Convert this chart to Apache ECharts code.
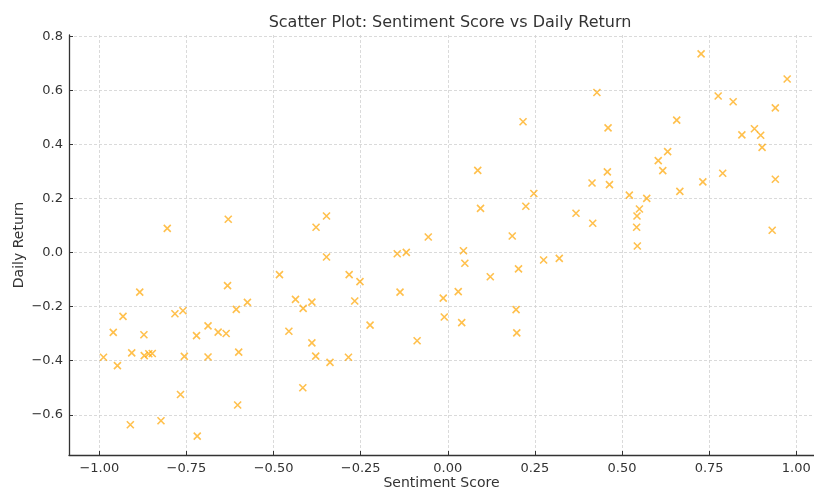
<!DOCTYPE html>
<html>
<head>
<meta charset="utf-8">
<script src="https://cdn.jsdelivr.net/npm/echarts@6/dist/echarts.min.js"></script>
<style>html,body{margin:0;padding:0;background:#fff}#c{width:814px;height:488px}</style>
</head>
<body>
<div id="c"></div>
<script>
var sentiment = [
  -0.805,-0.630,-0.378,-0.483,-0.632,-0.884,-0.437,-0.390,-0.575,-0.415,
  -0.607,-0.760,-0.783,-0.932,-0.688,-0.960,-0.456,-0.659,-0.636,-0.872,
  -0.721,-0.390,-0.600,-0.907,-0.858,-0.848,-0.871,-0.988,-0.756,-0.688,
  -0.379,-0.948,-0.416,-0.767,-0.603,-0.911,-0.823,-0.719,
  0.216,0.086,0.247,0.094,0.224,-0.348,-0.056,0.185,-0.145,-0.119,
  0.045,-0.348,0.049,0.275,0.320,0.203,-0.283,0.122,-0.252,-0.137,
  0.030,-0.013,-0.267,0.196,-0.010,0.040,-0.223,0.198,-0.088,-0.338,-0.285,
  0.727,0.974,0.428,0.776,0.819,0.940,0.657,0.460,0.880,0.844,
  0.898,0.902,0.631,0.604,0.617,0.458,0.789,0.414,0.464,0.732,
  0.940,0.521,0.571,0.666,0.368,0.416,0.550,0.543,0.542,0.931,0.544
];
var dailyReturn = [
  0.090,0.124,0.094,-0.081,-0.122,-0.146,-0.173,-0.183,-0.184,-0.206,
  -0.210,-0.215,-0.226,-0.236,-0.271,-0.295,-0.291,-0.294,-0.299,-0.304,
  -0.307,-0.334,-0.368,-0.371,-0.374,-0.373,-0.381,-0.387,-0.384,-0.386,
  -0.383,-0.418,-0.500,-0.525,-0.564,-0.637,-0.622,-0.679,
  0.485,0.305,0.219,0.164,0.172,0.136,0.058,0.062,-0.004,0.001,
  0.007,-0.016,-0.039,-0.027,-0.021,-0.060,-0.081,-0.089,-0.107,-0.146,
  -0.144,-0.168,-0.179,-0.211,-0.238,-0.259,-0.268,-0.297,-0.326,-0.406,-0.387,
  0.736,0.643,0.593,0.580,0.559,0.536,0.491,0.462,0.459,0.436,
  0.435,0.390,0.374,0.341,0.304,0.299,0.294,0.258,0.252,0.262,
  0.272,0.213,0.201,0.227,0.146,0.109,0.162,0.136,0.094,0.083,0.025
];
var xTicks = [-1.00,-0.75,-0.50,-0.25,0.00,0.25,0.50,0.75,1.00];
var yTicks = [-0.6,-0.4,-0.2,0.0,0.2,0.4,0.6,0.8];

var points = sentiment.map(function(s,i){ return [s, dailyReturn[i]]; });
function minusFmt(d){ return function(v){ var s = Number(v).toFixed(d); return s.replace('-', '\u2212'); }; }

var axisCol = '#333';
var chart = echarts.init(document.getElementById('c'), null, {renderer:'canvas'});
chart.setOption({
  animation:false,
  backgroundColor:'#fff',
  title:{
    text:'Scatter Plot: Sentiment Score vs Daily Return',
    left:445, top:10, textAlign:'center',
    textStyle:{fontFamily:'DejaVu Sans', fontSize:16, fontWeight:'normal', color:'#333'}
  },
  grid:{left:69, right:0, top:35, bottom:33, containLabel:false, outerBoundsMode:'none'},
  xAxis:{
    type:'value', min:-1.087, max:1.051,
    name:'Sentiment Score', nameLocation:'middle', nameGap:21, nameMoveOverlap:false,
    nameTextStyle:{fontFamily:'DejaVu Sans', fontSize:14, color:'#333'},
    axisLine:{show:true, onZero:false, lineStyle:{color:axisCol, width:1.3}},
    axisTick:{show:true, inside:true, length:4, customValues:xTicks, lineStyle:{color:axisCol, width:1}},
    axisLabel:{customValues:xTicks, formatter:minusFmt(2), margin:7, fontFamily:'DejaVu Sans', fontSize:13, color:'#333'},
    splitLine:{show:true, lineStyle:{color:'#d0d0d0', type:[3,2], width:0.8}}
  },
  yAxis:{
    type:'value', min:-0.749, max:0.806,
    name:'Daily Return', nameLocation:'middle', nameGap:43, nameMoveOverlap:false,
    nameTextStyle:{fontFamily:'DejaVu Sans', fontSize:14, color:'#333'},
    axisLine:{show:true, onZero:false, lineStyle:{color:axisCol, width:1.3}},
    axisTick:{show:true, inside:true, length:4, customValues:yTicks, lineStyle:{color:axisCol, width:1}},
    axisLabel:{customValues:yTicks, formatter:minusFmt(1), margin:6, fontFamily:'DejaVu Sans', fontSize:13, color:'#333'},
    splitLine:{show:true, lineStyle:{color:'#d0d0d0', type:[3,2], width:0.8}}
  },
  series:[{
    type:'scatter',
    data:points,
    symbol:'path://M0,0L10,10M10,0L0,10',
    symbolSize:7,
    itemStyle:{color:'rgba(255,165,0,0.7)', borderColor:'rgba(255,165,0,0.7)', borderWidth:1.6, opacity:1}
  }]
});
</script>
</body>
</html>
